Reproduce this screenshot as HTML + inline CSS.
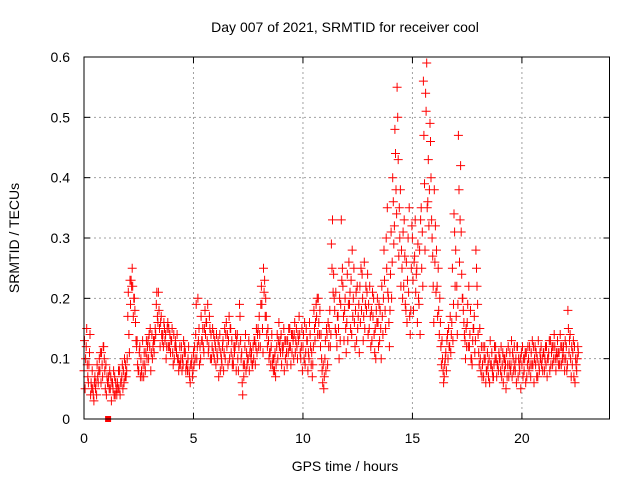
<!DOCTYPE html>
<html><head><meta charset="utf-8"><style>
html,body{margin:0;padding:0;background:#fff;}
svg{display:block;font-family:"Liberation Sans",sans-serif;}
</style></head><body>
<svg id="chart" width="640" height="480">
<text x="345" y="32" font-size="14" text-anchor="middle" fill="#000">Day 007 of 2021, SRMTID for receiver cool</text>
<text x="345" y="471" font-size="14" text-anchor="middle" fill="#000">GPS time / hours</text>
<text transform="translate(19,238) rotate(-90)" font-size="14" text-anchor="middle" fill="#000">SRMTID / TECUs</text>
<g id="grid"></g>
<g id="ticks"></g>
<g id="marks"></g>
<rect x="84" y="57" width="525.5" height="362" fill="none" stroke="#000" stroke-width="1"/>
</svg>
<script>
const xTicks = [0,5,10,15,20];
const yTicks = [0,0.1,0.2,0.3,0.4,0.5,0.6];
const yTickLabels = ["0","0.1","0.2","0.3","0.4","0.5","0.6"];
const seriesA = [
.08,.12,.06,.04,.05,.07,.09,.10,.11,.12, .09,.06,.05,.06,.07,.04,.05,.06,.08,.09,
.17,.23,.25,.20,.12,.08,.10,.09,.08,.12, .12,.14,.11,.19,.21,.16,.14,.13,.15,.12,
.13,.14,.12,.10,.09,.10,.12,.09,.08,.09, .11,.14,.20,.12,.13,.15,.16,.12,.14,.11,
.12,.10,.14,.09,.11,.16,.13,.15,.10,.12, .14,.19,.11,.07,.08,.10,.12,.09,.13,.11,
.17,.22,.25,.20,.15,.11,.09,.08,.12,.16, .14,.12,.10,.13,.15,.11,.14,.15,.13,.10,
.12,.09,.13,.16,.11,.18,.19,.20,.12,.06, .10,.14,.15,.29,.24,.21,.17,.13,.25,.18,
.16,.26,.23,.20,.18,.15,.22,.24,.26,.18, .19,.12,.17,.15,.20,.13,.22,.28,.30,.20,
.24,.40,.48,.55,.35,.28,.22,.18,.30,.14, .30,.27,.25,.19,.35,.56,.54,.36,.49,.30,
.38,.28,.18,.12,.08,.10,.14,.12,.16,.34, .17,.47,.42,.20,.13,.16,.12,.10,.15,.28,
.14,.10,.09,.12,.08,.10,.09,.07,.12,.09, .10,.09,.08,.11,.07,.09,.10,.08,.12,.08,
.09,.08,.11,.10,.07,.09,.12,.10,.08,.09, .11,.09,.10,.13,.09,.12,.10,.11,.09,.12,
.10,.18,.14,.09,.12,.08];
const seriesB = [
.13,.15,.09,.06,.04,.05,.07,.08,.09,.10, .04,.07,.07,.05,.04,.06,.08,.07,.06,.07,
.21,.19,.22,.18,.13,.11,.08,.07,.11,.13, .15,.10,.13,.21,.18,.17,.12,.14,.16,.14,
.15,.10,.11,.08,.10,.09,.11,.08,.07,.10, .09,.19,.13,.10,.15,.18,.13,.17,.10,.14,
.09,.13,.08,.12,.15,.12,.17,.11,.09,.14, .10,.17,.06,.09,.11,.13,.10,.12,.09,.14,
.14,.19,.21,.17,.13,.09,.10,.11,.14,.12, .09,.15,.13,.11,.12,.14,.16,.12,.17,.12,
.14,.11,.08,.14,.07,.15,.17,.16,.14,.09, .13,.09,.18,.25,.20,.14,.15,.19,.22,.20,
.24,.19,.14,.25,.21,.17,.16,.20,.15,.21, .15,.18,.20,.10,.16,.18,.17,.23,.25,.16,
.31,.36,.44,.50,.30,.25,.33,.26,.21,.18, .23,.33,.16,.28,.25,.47,.51,.43,.46,.27,
.26,.22,.14,.09,.06,.11,.10,.17,.25,.31, .22,.38,.31,.18,.10,.19,.14,.09,.17,.25,
.11,.08,.12,.10,.11,.06,.11,.09,.10,.08, .08,.11,.10,.07,.09,.13,.08,.10,.07,.10,
.12,.10,.07,.08,.11,.12,.09,.07,.11,.10, .08,.12,.11,.09,.12,.10,.13,.09,.12,.10,
.12,.15,.10,.11,.06,.10];
const seriesC = [
.05,.09,.11,.05,.03,.06,.06,.11,.07,.08, .07,.05,.03,.08,.06,.05,.04,.09,.10,.08,
.14,.23,.17,.16,.09,.12,.07,.11,.13,.10, .08,.12,.15,.17,.15,.14,.16,.10,.12,.11,
.11,.12,.14,.09,.12,.13,.08,.10,.06,.07, .12,.10,.15,.17,.12,.14,.19,.15,.12,.10,
.14,.07,.11,.13,.10,.14,.10,.13,.12,.08, .08,.13,.04,.12,.09,.08,.11,.10,.12,.15,
.12,.15,.23,.14,.10,.12,.08,.07,.10,.13, .12,.08,.11,.15,.09,.13,.11,.10,.14,.15,
.10,.15,.11,.12,.09,.13,.20,.14,.10,.05, .08,.16,.12,.33,.18,.12,.10,.33,.17,.15,
.13,.21,.28,.16,.13,.19,.25,.13,.19,.24, .22,.13,.14,.18,.12,.15,.14,.18,.35,.12,
.20,.29,.38,.43,.38,.20,.27,.16,.35,.25, .18,.21,.29,.14,.31,.39,.59,.32,.40,.22,
.32,.17,.20,.13,.07,.08,.15,.11,.13,.22, .14,.26,.24,.16,.15,.12,.18,.13,.11,.22,
.09,.12,.07,.06,.09,.13,.08,.12,.07,.11, .12,.06,.09,.09,.11,.07,.12,.06,.10,.05,
.07,.11,.09,.12,.09,.06,.11,.13,.10,.08, .10,.07,.13,.11,.10,.08,.11,.14,.10,.08,
.08,.11,.07,.13,.10,.12];
const seriesD = [
.10,.07,.14,.08,.06,.04,.08,.06,.12,.05, .06,.08,.06,.04,.05,.08,.06,.05,.07,.10,
.11,.22,.20,.13,.08,.07,.13,.09,.10,.14, .11,.13,.14,.16,.12,.13,.15,.12,.15,.13,
.09,.13,.10,.12,.08,.11,.09,.12,.09,.08, .10,.12,.09,.13,.11,.16,.11,.10,.15,.13,
.11,.12,.10,.08,.14,.09,.15,.09,.11,.13, .12,.10,.09,.14,.10,.11,.09,.13,.15,.12,
.19,.11,.17,.12,.11,.14,.10,.09,.13,.11, .11,.13,.09,.12,.14,.10,.13,.14,.11,.08,
.16,.13,.10,.09,.12,.16,.14,.18,.08,.07, .15,.12,.14,.21,.15,.17,.20,.23,.13,.11,
.19,.15,.17,.12,.22,.11,.18,.17,.22,.14, .17,.21,.11,.16,.19,.10,.20,.15,.21,.18,
.26,.32,.34,.27,.22,.31,.19,.23,.17,.32, .26,.24,.20,.33,.22,.28,.35,.38,.33,.16,
.21,.25,.16,.10,.09,.13,.12,.14,.19,.28, .19,.33,.20,.14,.12,.22,.10,.15,.13,.19,
.15,.07,.10,.08,.07,.09,.07,.10,.09,.10, .07,.10,.05,.12,.08,.11,.09,.12,.09,.11,
.10,.06,.12,.09,.13,.10,.07,.09,.12,.11, .12,.10,.08,.12,.14,.11,.09,.12,.11,.13,
.09,.13,.12,.07,.09,.11];
const seriesList = [seriesA, seriesB, seriesC, seriesD];
const seriesOffsets = [0, 0.025, 0.05, 0.075];
const binWidth = 0.1;
const flagTime = [1.1];
const flagValue = [0];

const X0=84, X1=609.5, Y0=419, Y1=57;
const xMax=24, yMax=0.6;
function xs(t){return X0+(X1-X0)*t/xMax;}
function ys(v){return Y0-(Y0-Y1)*v/yMax;}
const NS="http://www.w3.org/2000/svg";
function mk(tag,attrs,parent){const e=document.createElementNS(NS,tag);for(const k in attrs)e.setAttribute(k,attrs[k]);parent.appendChild(e);return e;}
const grid=document.getElementById('grid'), ticks=document.getElementById('ticks'), marks=document.getElementById('marks');

xTicks.forEach((t,i)=>{
  const x=xs(t);
  if(t>0){const g=mk('line',{x1:x,x2:x,y1:Y0,y2:Y1,stroke:'#a0a0a0','stroke-dasharray':'2,3','stroke-width':1},grid);
  
  }
  mk('line',{x1:x,x2:x,y1:Y0,y2:Y0-6,stroke:'#000'},ticks);
  mk('line',{x1:x,x2:x,y1:Y1,y2:Y1+6,stroke:'#000'},ticks);
  const l=mk('text',{x:x,y:443,'font-size':14,'text-anchor':'middle',fill:'#000'},ticks);
  l.textContent=String(t);
  
  
});
yTicks.forEach((v,i)=>{
  const y=ys(v);
  if(v>0&&v<yMax){const g=mk('line',{x1:X0,x2:X1,y1:y,y2:y,stroke:'#a0a0a0','stroke-dasharray':'2,3','stroke-width':1},grid);
  
  }
  mk('line',{x1:X0,x2:X0+6,y1:y,y2:y,stroke:'#000'},ticks);
  mk('line',{x1:X1,x2:X1-6,y1:y,y2:y,stroke:'#000'},ticks);
  const l=mk('text',{x:70,y:y+5,'font-size':14,'text-anchor':'end',fill:'#000'},ticks);
  l.textContent=yTickLabels[i];
  
  
});
let d='';
seriesList.forEach((s,si)=>{
  s.forEach((v,i)=>{
    const x=xs(i*binWidth+seriesOffsets[si]), y=ys(v);
    d+='M'+(x-4.5).toFixed(1)+' '+y.toFixed(1)+'h9M'+x.toFixed(1)+' '+(y-4.5).toFixed(1)+'v9';
  });
});
const p=mk('path',{d:d,stroke:'#ff0000','stroke-width':1,fill:'none'},marks);


flagTime.forEach((t,i)=>{
  const r=mk('rect',{x:xs(t)-3,y:ys(flagValue[i])-3,width:6,height:6,fill:'#ff0000'},marks);
  
  
});
</script>
</body></html>
